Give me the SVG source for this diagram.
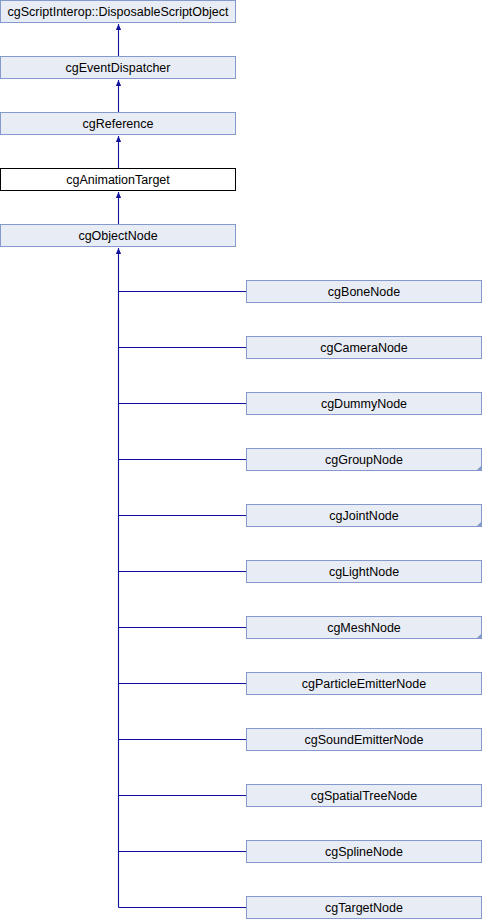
<svg xmlns="http://www.w3.org/2000/svg" width="482" height="920" viewBox="0 0 482 920">
  <style>
    .box { fill: #e8ecf5; stroke: #8499cc; stroke-width: 1; }
    .cur { fill: #ffffff; stroke: #000000; stroke-width: 1; }
    .lbl { font-family: "Liberation Sans", Arial, sans-serif; font-size: 12.5px; fill: #000000; text-anchor: middle; }
    .edge { fill: none; stroke: #11119c; stroke-width: 1.1; }
    .more { fill: #8499cc; }
  </style>
  <defs>
    <marker id="arr" viewBox="0 0 6 6" refX="6" refY="3" markerWidth="6" markerHeight="6" markerUnits="userSpaceOnUse" orient="auto">
      <path d="M0,0.4 L6,3 L0,5.6 Z" fill="#11119c"/>
    </marker>
  </defs>

  <!-- inheritance edges -->
  <g id="edges">
    <path class="edge" d="M118.5,56 V24" marker-end="url(#arr)"/>
    <path class="edge" d="M118.5,112 V80" marker-end="url(#arr)"/>
    <path class="edge" d="M118.5,168 V136" marker-end="url(#arr)"/>
    <path class="edge" d="M118.5,224 V192" marker-end="url(#arr)"/>
    <path class="edge" d="M118.5,907.5 V248" marker-end="url(#arr)"/>
    <path class="edge" d="M118.5,291.5 H246"/>
    <path class="edge" d="M118.5,347.5 H246"/>
    <path class="edge" d="M118.5,403.5 H246"/>
    <path class="edge" d="M118.5,459.5 H246"/>
    <path class="edge" d="M118.5,515.5 H246"/>
    <path class="edge" d="M118.5,571.5 H246"/>
    <path class="edge" d="M118.5,627.5 H246"/>
    <path class="edge" d="M118.5,683.5 H246"/>
    <path class="edge" d="M118.5,739.5 H246"/>
    <path class="edge" d="M118.5,795.5 H246"/>
    <path class="edge" d="M118.5,851.5 H246"/>
    <path class="edge" d="M118.5,907.5 H246"/>
  </g>

  <!-- base chain -->
  <g id="DisposableScriptObject">
    <rect class="box" x="0.5" y="0.5" width="235" height="22"/>
    <text class="lbl" x="118" y="16">cgScriptInterop::DisposableScriptObject</text>
  </g>
  <g id="cgEventDispatcher">
    <rect class="box" x="0.5" y="56.5" width="235" height="22"/>
    <text class="lbl" x="118" y="72">cgEventDispatcher</text>
  </g>
  <g id="cgReference">
    <rect class="box" x="0.5" y="112.5" width="235" height="22"/>
    <text class="lbl" x="118" y="128">cgReference</text>
  </g>
  <g id="cgAnimationTarget">
    <rect class="cur" x="0.5" y="168.5" width="235" height="22"/>
    <text class="lbl" x="118" y="184">cgAnimationTarget</text>
  </g>
  <g id="cgObjectNode">
    <rect class="box" x="0.5" y="224.5" width="235" height="22"/>
    <text class="lbl" x="118" y="240">cgObjectNode</text>
  </g>

  <!-- derived classes -->
  <g id="cgBoneNode">
    <rect class="box" x="246.5" y="280.5" width="235" height="22"/>
    <text class="lbl" x="364" y="296">cgBoneNode</text>
  </g>
  <g id="cgCameraNode">
    <rect class="box" x="246.5" y="336.5" width="235" height="22"/>
    <text class="lbl" x="364" y="352">cgCameraNode</text>
  </g>
  <g id="cgDummyNode">
    <rect class="box" x="246.5" y="392.5" width="235" height="22"/>
    <text class="lbl" x="364" y="408">cgDummyNode</text>
  </g>
  <g id="cgGroupNode">
    <rect class="box" x="246.5" y="448.5" width="235" height="22"/>
    <polygon class="more" points="482,465 482,471 476,471"/>
    <text class="lbl" x="364" y="464">cgGroupNode</text>
  </g>
  <g id="cgJointNode">
    <rect class="box" x="246.5" y="504.5" width="235" height="22"/>
    <polygon class="more" points="482,521 482,527 476,527"/>
    <text class="lbl" x="364" y="520">cgJointNode</text>
  </g>
  <g id="cgLightNode">
    <rect class="box" x="246.5" y="560.5" width="235" height="22"/>
    <text class="lbl" x="364" y="576">cgLightNode</text>
  </g>
  <g id="cgMeshNode">
    <rect class="box" x="246.5" y="616.5" width="235" height="22"/>
    <polygon class="more" points="482,633 482,639 476,639"/>
    <text class="lbl" x="364" y="632">cgMeshNode</text>
  </g>
  <g id="cgParticleEmitterNode">
    <rect class="box" x="246.5" y="672.5" width="235" height="22"/>
    <text class="lbl" x="364" y="688">cgParticleEmitterNode</text>
  </g>
  <g id="cgSoundEmitterNode">
    <rect class="box" x="246.5" y="728.5" width="235" height="22"/>
    <text class="lbl" x="364" y="744">cgSoundEmitterNode</text>
  </g>
  <g id="cgSpatialTreeNode">
    <rect class="box" x="246.5" y="784.5" width="235" height="22"/>
    <text class="lbl" x="364" y="800">cgSpatialTreeNode</text>
  </g>
  <g id="cgSplineNode">
    <rect class="box" x="246.5" y="840.5" width="235" height="22"/>
    <text class="lbl" x="364" y="856">cgSplineNode</text>
  </g>
  <g id="cgTargetNode">
    <rect class="box" x="246.5" y="896.5" width="235" height="22"/>
    <text class="lbl" x="364" y="912">cgTargetNode</text>
  </g>
</svg>
